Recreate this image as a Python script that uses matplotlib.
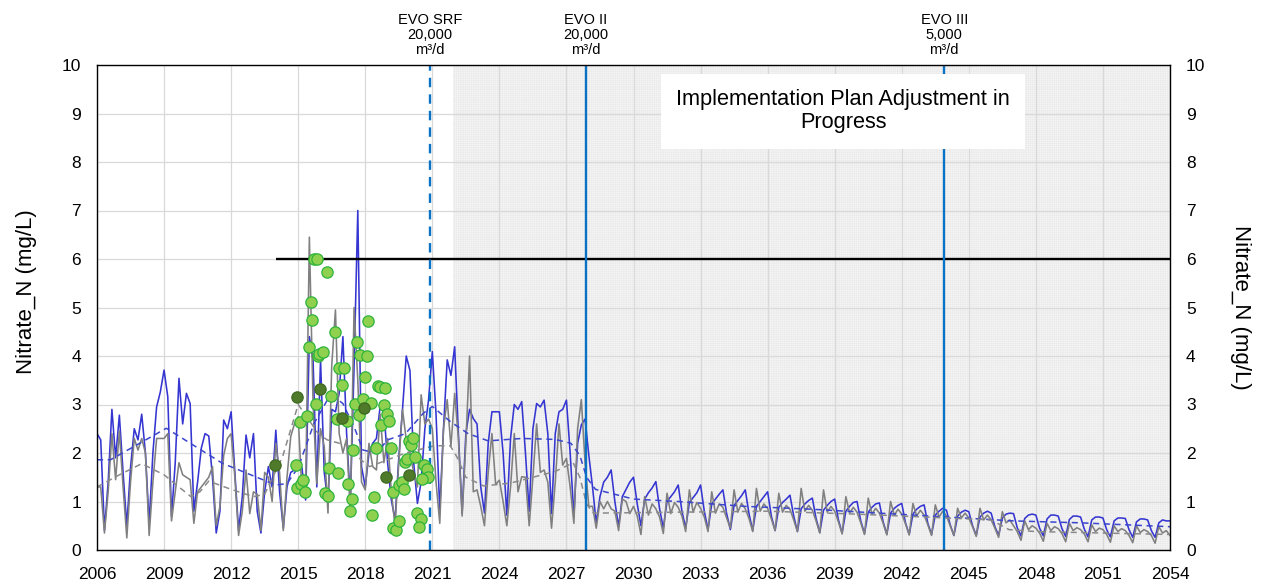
import numpy as np
import matplotlib
matplotlib.use("Agg")
import matplotlib.pyplot as plt
import matplotlib.transforms as mtransforms

plt.rcParams['font.family'] = ['Liberation Sans', 'DejaVu Sans']
plt.rcParams['hatch.linewidth'] = 0.25
plt.rcParams['hatch.color'] = '#e6e6e6'

# ==========================================================
# DATA  (bi-monthly samples, one row per year, 2006 -> 2053, plus 2054.0)
# ==========================================================
blue_rows = [
    [2.40, 2.27, 0.41, 1.40, 2.90, 1.90],  # 2006
    [2.78, 1.60, 0.50, 1.70, 2.50, 2.27],
    [2.80, 2.00, 0.55, 2.00, 2.95, 3.26],
    [3.71, 3.16, 0.69, 1.80, 3.54, 2.60],
    [3.23, 3.02, 0.80, 1.40, 2.10, 2.40],  # 2010
    [2.35, 1.50, 0.35, 0.80, 2.68, 2.50],
    [2.85, 1.60, 0.40, 1.10, 2.37, 1.90],
    [2.40, 0.80, 0.35, 1.20, 1.72, 1.30],
    [2.47, 1.20, 0.45, 1.30, 1.60, 1.65],
    [1.72, 1.70, 1.03, 4.40, 3.90, 1.30],  # 2015
    [3.92, 1.60, 0.96, 2.90, 2.85, 3.23],
    [4.40, 2.40, 1.00, 3.78, 7.00, 1.72],
    [1.30, 2.00, 2.20, 2.30, 2.96, 2.90],
    [1.80, 1.03, 0.62, 1.90, 2.90, 4.00],
    [3.70, 1.80, 0.96, 1.40, 2.50, 3.10],  # 2020
    [4.09, 2.80, 0.80, 2.50, 3.92, 3.60],
    [4.19, 2.40, 0.75, 2.40, 2.90, 2.71],
    [2.60, 1.30, 0.76, 2.20, 2.85, 2.85],
    [2.85, 2.00, 0.72, 2.30, 3.00, 2.90],
    [3.06, 2.00, 0.80, 2.50, 3.02, 2.95],  # 2025
    [3.09, 2.40, 0.75, 2.40, 2.85, 2.90],
    [3.09, 2.00, 0.69, 2.20, 2.58, 2.70],
    [1.96, 1.30, 0.55, 1.10, 1.40, 1.50],
    [1.65, 1.00, 0.48, 1.10, 1.25, 1.40],
    [1.50, 0.95, 0.50, 1.05, 1.18, 1.28],  # 2030
    [1.41, 0.85, 0.45, 1.00, 1.10, 1.20],
    [1.34, 0.80, 0.45, 0.98, 1.08, 1.18],
    [1.34, 0.80, 0.42, 0.95, 1.05, 1.15],
    [1.24, 0.75, 0.42, 0.92, 1.02, 1.12],
    [1.24, 0.75, 0.40, 0.90, 1.00, 1.10],  # 2035
    [1.20, 0.70, 0.40, 0.88, 0.98, 1.05],
    [1.13, 0.70, 0.38, 0.85, 0.95, 1.02],
    [1.07, 0.65, 0.36, 0.82, 0.92, 1.00],
    [1.05, 0.62, 0.35, 0.80, 0.90, 0.98],
    [1.00, 0.60, 0.34, 0.78, 0.88, 0.95],  # 2040
    [0.97, 0.58, 0.33, 0.76, 0.86, 0.92],
    [0.96, 0.56, 0.32, 0.74, 0.84, 0.90],
    [0.93, 0.55, 0.32, 0.72, 0.80, 0.86],
    [0.82, 0.52, 0.30, 0.70, 0.78, 0.82],
    [0.79, 0.50, 0.30, 0.68, 0.76, 0.80],  # 2045
    [0.76, 0.48, 0.30, 0.66, 0.74, 0.76],
    [0.75, 0.46, 0.29, 0.65, 0.72, 0.74],
    [0.72, 0.45, 0.29, 0.64, 0.72, 0.72],
    [0.70, 0.44, 0.28, 0.63, 0.70, 0.70],
    [0.68, 0.43, 0.27, 0.62, 0.68, 0.68],  # 2050
    [0.66, 0.42, 0.27, 0.60, 0.66, 0.66],
    [0.65, 0.42, 0.26, 0.58, 0.64, 0.64],
    [0.62, 0.40, 0.26, 0.56, 0.62, 0.60],
]
blue_end = 0.60

gray_rows = [
    [1.30, 1.30, 0.35, 1.20, 2.40, 1.45],  # 2006
    [2.45, 1.30, 0.25, 1.40, 2.30, 2.06],
    [2.30, 2.00, 0.30, 1.40, 2.30, 2.30],
    [2.30, 2.40, 0.60, 1.20, 1.80, 1.55],
    [1.50, 1.45, 0.55, 1.20, 1.30, 1.40],  # 2010
    [1.50, 1.72, 0.50, 0.90, 1.95, 2.30],
    [2.40, 1.50, 0.30, 0.80, 1.65, 0.75],
    [1.20, 1.15, 0.40, 1.60, 1.50, 1.00],
    [2.20, 1.60, 0.40, 1.50, 2.34, 2.60],
    [2.75, 1.20, 1.20, 6.45, 3.00, 1.37],  # 2015
    [2.50, 2.13, 0.76, 3.80, 4.95, 2.40],
    [2.00, 2.30, 0.76, 5.00, 3.50, 1.40],
    [1.24, 2.20, 1.72, 1.65, 2.80, 1.80],
    [2.30, 1.20, 0.50, 1.80, 2.90, 2.27],
    [2.00, 1.60, 1.30, 3.20, 2.60, 2.70],  # 2020
    [2.50, 1.40, 0.55, 2.50, 3.10, 2.13],
    [3.23, 2.30, 0.70, 2.20, 4.00, 1.20],
    [1.24, 0.90, 0.50, 1.60, 2.40, 1.35],
    [1.44, 1.00, 0.50, 1.30, 2.40, 1.20],
    [1.51, 1.50, 0.50, 1.50, 2.60, 1.60],  # 2025
    [1.65, 1.40, 0.45, 1.40, 2.60, 1.75],
    [1.89, 1.30, 0.55, 2.50, 3.10, 1.80],
    [0.90, 0.90, 0.45, 1.00, 0.85, 1.00],
    [0.85, 0.80, 0.40, 1.05, 1.00, 0.75],
    [0.90, 0.70, 0.32, 1.10, 0.72, 0.95],  # 2030
    [0.85, 0.68, 0.34, 1.17, 0.75, 0.98],
    [0.88, 0.70, 0.38, 1.24, 0.78, 0.98],
    [0.86, 0.68, 0.38, 1.20, 0.76, 0.95],
    [0.88, 0.66, 0.45, 1.24, 0.78, 0.96],
    [0.85, 0.65, 0.38, 1.27, 0.80, 0.95],  # 2035
    [0.86, 0.64, 0.40, 1.17, 0.78, 0.92],
    [0.84, 0.62, 0.38, 1.27, 0.80, 0.92],
    [0.82, 0.60, 0.35, 1.24, 0.78, 0.90],
    [0.80, 0.58, 0.33, 1.10, 0.76, 0.88],
    [0.78, 0.56, 0.32, 1.07, 0.74, 0.86],  # 2040
    [0.76, 0.55, 0.31, 1.00, 0.72, 0.84],
    [0.74, 0.54, 0.31, 0.96, 0.70, 0.82],
    [0.72, 0.52, 0.30, 0.93, 0.68, 0.80],
    [0.70, 0.50, 0.30, 0.86, 0.66, 0.76],
    [0.66, 0.48, 0.28, 0.86, 0.62, 0.72],  # 2045
    [0.62, 0.45, 0.26, 0.79, 0.56, 0.62],
    [0.50, 0.38, 0.20, 0.60, 0.42, 0.50],
    [0.45, 0.35, 0.18, 0.55, 0.40, 0.48],
    [0.44, 0.34, 0.17, 0.55, 0.40, 0.46],
    [0.42, 0.33, 0.17, 0.52, 0.38, 0.45],  # 2050
    [0.42, 0.32, 0.16, 0.50, 0.38, 0.44],
    [0.40, 0.30, 0.15, 0.50, 0.36, 0.42],
    [0.38, 0.30, 0.14, 0.48, 0.35, 0.40],
]
gray_end = 0.30

# smoothed trends (dashed)
blue_trend_years = [2006.0, 2006.6, 2009.1, 2011.6, 2014.0, 2014.5, 2015.0, 2015.7,
                    2016.3, 2016.6, 2017.0, 2017.5, 2017.9, 2018.5, 2019.0, 2019.8,
                    2020.6, 2021.0, 2021.8, 2022.6, 2023.5, 2025.0, 2026.5, 2027.2,
                    2027.6, 2027.9, 2028.3, 2030.0, 2032.0, 2035.0, 2038.0, 2041.0,
                    2044.0, 2047.0, 2050.0, 2054.0]
blue_trend = [1.86, 1.86, 2.51, 1.79, 1.34, 1.37, 1.70, 2.60,
              3.09, 3.16, 3.02, 2.54, 2.06, 2.00, 2.27, 2.40,
              2.82, 2.96, 2.65, 2.40, 2.25, 2.30, 2.28, 2.20,
              1.95, 1.50, 1.25, 1.05, 1.00, 0.90, 0.84, 0.76,
              0.68, 0.60, 0.56, 0.48]

gray_trend_years = [2006.0, 2007.0, 2008.0, 2009.0, 2010.2, 2010.6, 2011.0, 2012.0,
                    2013.0, 2013.5, 2014.3, 2015.0, 2015.9, 2016.3, 2017.4, 2017.8,
                    2018.2, 2019.0, 2019.8, 2021.1, 2021.8, 2022.1, 2022.5, 2023.3,
                    2024.5, 2025.5, 2026.5, 2027.3, 2027.6, 2027.9, 2028.2, 2032.0,
                    2036.0, 2040.0, 2044.0, 2046.0, 2046.8, 2048.0, 2054.0]
gray_trend = [1.30, 1.55, 1.78, 1.55, 1.10, 1.20, 1.42, 1.25,
              1.10, 1.15, 1.92, 3.00, 2.40, 2.27, 2.13, 1.86,
              1.72, 1.86, 2.00, 2.15, 2.15, 1.92, 1.50, 1.32,
              1.38, 1.50, 1.62, 1.80, 1.50, 0.95, 0.76, 0.78,
              0.80, 0.74, 0.66, 0.62, 0.42, 0.38, 0.32]

# observed samples
obs_years = [2015.72, 2015.82, 2016.30, 2015.56, 2015.63, 2015.47, 2015.90, 2015.95,
             2016.13, 2016.65, 2016.84, 2017.05, 2016.97, 2016.45, 2015.80, 2015.07,
             2015.38, 2016.72, 2017.17, 2014.90, 2014.96, 2015.11, 2015.23, 2015.31,
             2016.39, 2016.20, 2016.32, 2016.80, 2017.22, 2017.40, 2017.31, 2017.46,
             2017.65, 2017.78, 2018.07, 2018.14, 2017.99, 2017.54, 2017.72, 2017.90,
             2018.25, 2018.55, 2018.67, 2018.89, 2018.82, 2018.71, 2018.96, 2019.07,
             2018.47, 2019.16, 2018.40, 2018.32, 2019.23, 2019.26, 2019.38, 2019.49,
             2019.49, 2019.64, 2019.74, 2019.77, 2019.89, 2019.96, 2020.05, 2020.15,
             2020.23, 2020.30, 2020.48, 2020.41, 2020.63, 2020.75, 2020.82, 2020.55]
obs_vals = [6.01, 6.01, 5.74, 5.12, 4.74, 4.19, 3.99, 4.05,
            4.09, 4.50, 3.75, 3.75, 3.40, 3.18, 3.01, 2.63,
            2.76, 2.70, 2.67, 1.75, 1.27, 1.37, 1.44, 1.20,
            1.70, 1.17, 1.12, 1.58, 1.37, 1.05, 0.81, 2.06,
            4.28, 4.02, 3.99, 4.73, 3.57, 3.02, 2.78, 3.11,
            3.04, 3.38, 3.37, 3.33, 2.99, 2.58, 2.80, 2.65,
            2.11, 2.11, 1.10, 0.72, 1.20, 0.45, 0.41, 0.60,
            1.34, 1.41, 1.26, 1.82, 1.87, 2.25, 2.16, 2.31,
            1.91, 0.76, 0.64, 0.48, 1.75, 1.68, 1.51, 1.46]

annual_years = [2013.96, 2014.95, 2015.98, 2016.96, 2017.95, 2018.93, 2019.96]
annual_vals = [1.75, 3.15, 3.32, 2.72, 2.93, 1.50, 1.55]

# events / reference
evo_years = [2020.9, 2027.88, 2043.9]
evo_labels = ["EVO SRF\n20,000\nm\u00b3/d", "EVO II\n20,000\nm\u00b3/d", "EVO III\n5,000\nm\u00b3/d"]
evo_dashed = [True, False, False]
limit_value = 6
limit_start = 2014.0
shade_start = 2021.93
box_text = "Implementation Plan Adjustment in\nProgress"
ylabel = "Nitrate_N (mg/L)"

# ==========================================================
# BUILD SERIES
# ==========================================================
blue = np.append(np.array(blue_rows).ravel(), blue_end)
gray = np.append(np.array(gray_rows).ravel(), gray_end)
t = 2006 + np.arange(len(blue)) / 6.0

# ==========================================================
# PLOT
# ==========================================================
fig = plt.figure(figsize=(12.62, 5.86), dpi=100)
ax = fig.add_axes([97 / 1262, 36 / 586, 1073 / 1262, 485 / 586])

ax.set_xlim(2006, 2054)
ax.set_ylim(0, 10)
ax.set_xticks(range(2006, 2055, 3))
ax.set_yticks(range(0, 11))
ax.grid(True, color='#d9d9d9', lw=0.9, zorder=0.5)
ax.set_axisbelow(True)

# projection period: light grey with a faint mesh
ax.axvspan(shade_start, 2054, facecolor='#f5f5f5', edgecolor='#e6e6e6',
           hatch='+++++++++', lw=0, zorder=0.2)

ax.plot(t, blue, color='#3535d2', lw=1.15, zorder=2)
ax.plot(t, gray, color='#808080', lw=1.15, zorder=2.1)
ax.plot(blue_trend_years, blue_trend, color='#3a46cc', lw=1.1,
        ls=(0, (4, 3)), zorder=2.2)
ax.plot(gray_trend_years, gray_trend, color='#8a8a8a', lw=1.1,
        ls=(0, (4, 3)), zorder=2.2)

ax.hlines(limit_value, limit_start, 2054, color='black', lw=1.7, zorder=3)

trans = mtransforms.blended_transform_factory(ax.transData, ax.transAxes)
for x, lab, dashed in zip(evo_years, evo_labels, evo_dashed):
    ax.axvline(x, color='#0a72c4', lw=1.7, zorder=3.5,
               ls=(0, (4, 3)) if dashed else '-')
    ax.text(x, 1.017, lab, transform=trans, ha='center', va='bottom',
            fontsize=10.5, linespacing=1.1)

ax.scatter(obs_years, obs_vals, s=66, c='#8fd14f', edgecolors='#2eb43a',
           linewidths=0.9, zorder=5)
ax.scatter(annual_years, annual_vals, s=66, c='#4f7a2a', edgecolors='#3f6a22',
           linewidths=0.9, zorder=5)

ax.text(0.6955, 0.905, box_text, transform=ax.transAxes, ha='center', va='center',
        fontsize=15.7, linespacing=1.15, zorder=6,
        bbox=dict(boxstyle='square,pad=0.7', fc='white', ec='none'))

for s in ax.spines.values():
    s.set_color('black')
    s.set_linewidth(1.0)
    s.set_zorder(7)

ax.tick_params(axis='y', left=False, right=False, labelleft=True,
               labelright=True, labelsize=12.5, pad=8)
ax.tick_params(axis='x', bottom=False, labelsize=12.5, pad=9)

fig.text(27 / 1262, 1 - 292 / 586, ylabel, rotation=90, ha='center',
         va='center', fontsize=16)
fig.text(1240 / 1262, 1 - 307 / 586, ylabel, rotation=270, ha='center',
         va='center', fontsize=16)

fig.savefig("out.png", dpi=100)
